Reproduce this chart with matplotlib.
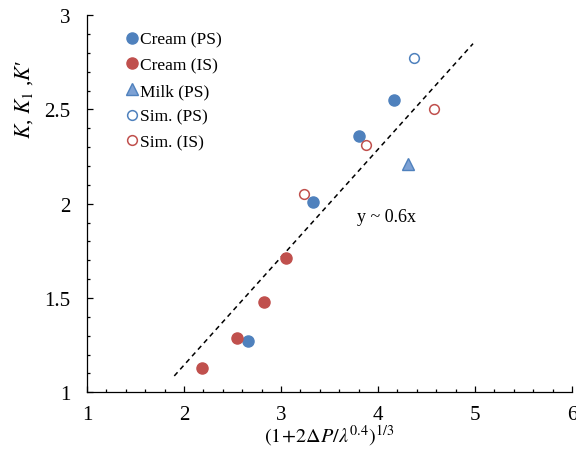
import matplotlib
matplotlib.use("Agg")
import matplotlib.pyplot as plt
from matplotlib.ticker import MultipleLocator

plt.rcParams['font.family'] = ['Liberation Serif', 'DejaVu Serif']
plt.rcParams['mathtext.fontset'] = 'stix'

# datos
cream_ps_x = [2.66, 3.33, 3.80, 4.17]
cream_ps_y = [1.27, 2.01, 2.36, 2.55]
cream_is_x = [2.19, 2.55, 2.82, 3.05]
cream_is_y = [1.13, 1.29, 1.48, 1.71]
milk_ps_x = [4.31]
milk_ps_y = [2.21]
sim_ps_x = [4.37]
sim_ps_y = [2.77]
sim_is_x = [3.24, 3.88, 4.58]
sim_is_y = [2.05, 2.31, 2.50]

# recta y ~ 0.6x
pendiente = 0.572
recta_x = [1.90, 4.98]
recta_y = [pendiente * v for v in recta_x]

azul = '#4F81BD'
rojo = '#C0504D'

fig = plt.figure(figsize=(5.76, 4.6), dpi=100)
ax = fig.add_axes([0.151, 0.145, 0.842, 0.820])

ax.plot(recta_x, recta_y, color='black', lw=1.1, ls=(0, (3.2, 2.6)))

ax.plot(cream_ps_x, cream_ps_y, 'o', ms=8, color=azul, mec=azul, label='Cream (PS)')
ax.plot(cream_is_x, cream_is_y, 'o', ms=8, color=rojo, mec=rojo, label='Cream (IS)')
ax.plot(milk_ps_x, milk_ps_y, '^', ms=8, color='#7DA1D4', mec=azul, mew=1.0, label='Milk (PS)')
ax.plot(sim_ps_x, sim_ps_y, 'o', ms=7, mfc='white', mec=azul, mew=1.1, label='Sim. (PS)')
ax.plot(sim_is_x, sim_is_y, 'o', ms=7, mfc='white', mec=rojo, mew=1.1, label='Sim. (IS)')

ax.text(4.09, 1.93, 'y ~ 0.6x', fontsize=13, ha='center', va='center')

ax.set_xlim(1, 6)
ax.set_ylim(1, 3)
ax.xaxis.set_major_locator(MultipleLocator(1))
ax.xaxis.set_minor_locator(MultipleLocator(0.2))
ax.yaxis.set_major_locator(MultipleLocator(0.5))
ax.yaxis.set_minor_locator(MultipleLocator(0.1))
ax.set_yticks([1, 1.5, 2, 2.5, 3])
ax.set_yticklabels(['1', '1.5', '2', '2.5', '3'])

ax.tick_params(which='major', direction='in', length=4.5, width=0.9, labelsize=15)
ax.tick_params(axis='y', which='major', pad=12)
ax.tick_params(axis='x', which='major', pad=9)
ax.tick_params(which='minor', direction='in', length=2.5, width=0.9)
for lado in ['top', 'right']:
    ax.spines[lado].set_visible(False)
for lado in ['left', 'bottom']:
    ax.spines[lado].set_linewidth(0.9)

ax.set_xlabel(r'$(1\!+\!2\Delta P/\lambda^{0.4})^{1/3}$', fontsize=14.5)
ax.xaxis.set_label_coords(0.499, -0.079)
ax.set_ylabel("$K$, $K_{\\rm 1}$ ,$K$\u2032", fontsize=15.5)
ax.yaxis.set_label_coords(-0.108, 0.778)

ax.legend(loc='upper left', bbox_to_anchor=(0.066, 0.975), frameon=False, fontsize=12.5,
          handlelength=0.7, handletextpad=0.1, labelspacing=0.55, borderaxespad=0)

fig.savefig('out.png', dpi=100)
